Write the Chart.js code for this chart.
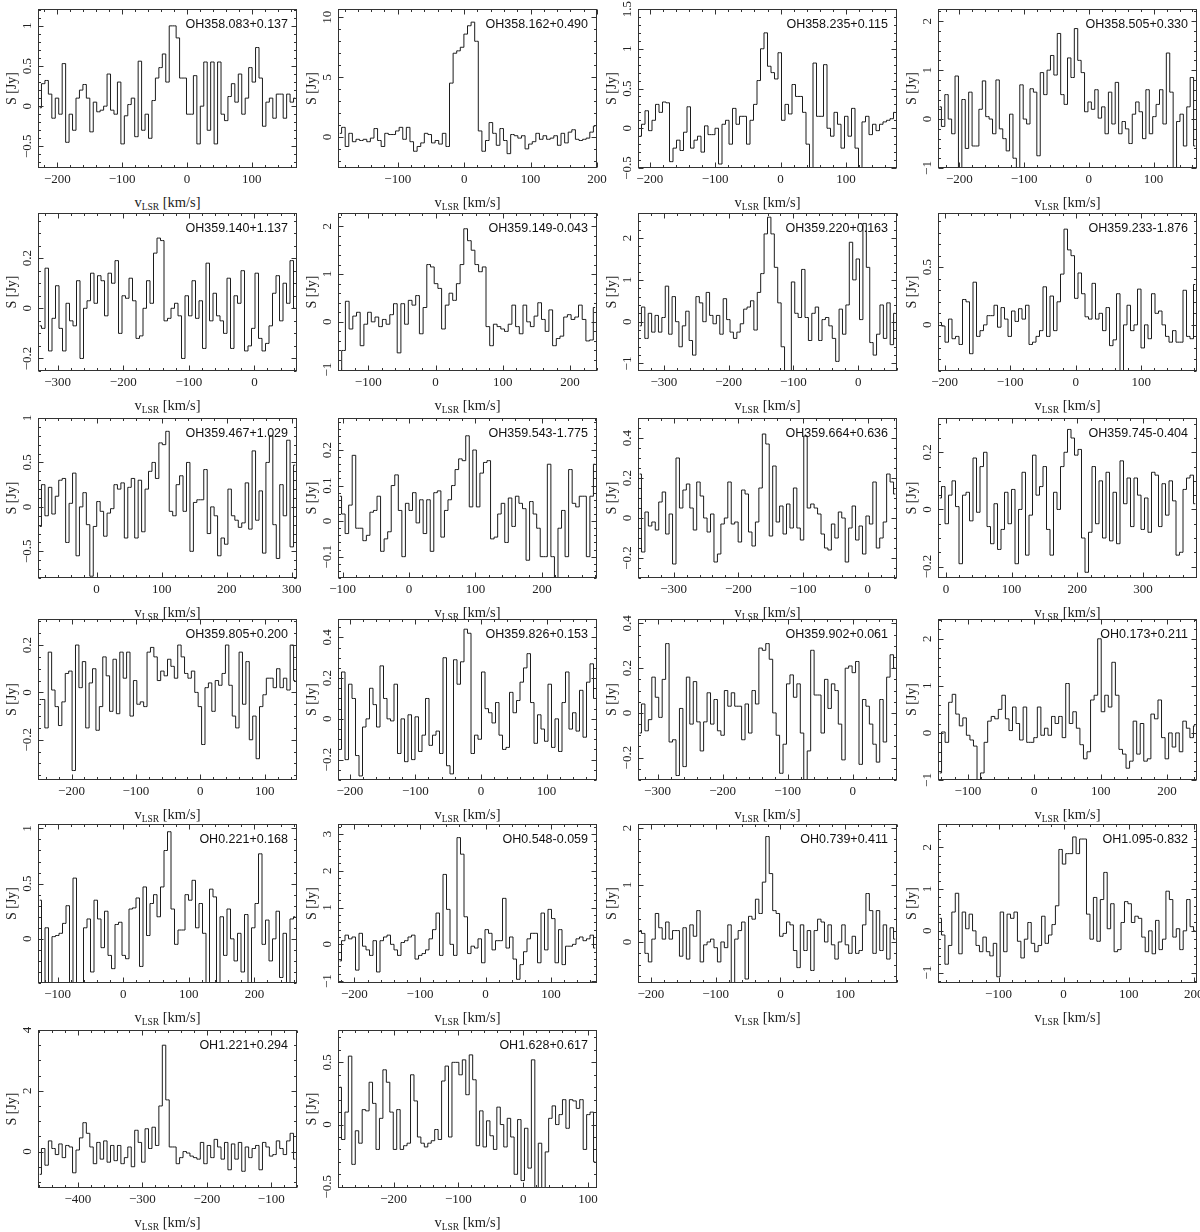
<!DOCTYPE html>
<html>
<head>
<meta charset="utf-8">
<script src="https://cdn.jsdelivr.net/npm/chart.js@4.4.1/dist/chart.umd.min.js"></script>
<style>
body { margin: 0; background: #fff; }
#fig { position: relative; width: 1200px; height: 1232px; overflow: hidden; }
#fig canvas { position: absolute; }
.name { position: absolute; font: 12.5px "Liberation Sans", Arial, sans-serif; color: #111; white-space: nowrap; line-height: 14px; }
.xlab { position: absolute; width: 200px; text-align: center; font: 14.5px "Liberation Serif", "Times New Roman", serif; color: #222; line-height: 18px; }
.xlab sub { font-size: 9.5px; vertical-align: -3px; }
</style>
</head>
<body>
<div id="fig"></div>
<script>
// source names, one per panel
const names = ['OH358.083+0.137', 'OH358.162+0.490', 'OH358.235+0.115', 'OH358.505+0.330',
    'OH359.140+1.137', 'OH359.149-0.043', 'OH359.220+0.163', 'OH359.233-1.876',
    'OH359.467+1.029', 'OH359.543-1.775', 'OH359.664+0.636', 'OH359.745-0.404',
    'OH359.805+0.200', 'OH359.826+0.153', 'OH359.902+0.061', 'OH0.173+0.211',
    'OH0.221+0.168', 'OH0.548-0.059', 'OH0.739+0.411', 'OH1.095-0.832',
    'OH1.221+0.294', 'OH1.628+0.617'];

// velocity window of each spectrum (km/s)
const velRange = [[-230, 170], [-190, 200], [-218, 178], [-233, 167],
    [-330, 65], [-145, 240], [-340, 60], [-210, 185],
    [-90, 308], [-107, 283], [-355, 45], [-12, 382],
    [-252, 150], [-218, 177], [-330, 68], [-145, 245],
    [-130, 265], [-225, 170], [-220, 180], [-193, 205],
    [-462, -60], [-286, 114]];

// flux axis limits (Jy)
const fluxRange = [[-0.77, 1.21], [-2.6, 10.7], [-0.5, 1.5], [-1, 2.25],
    [-0.25, 0.38], [-1.03, 2.28], [-1.18, 2.6], [-0.4, 0.97],
    [-0.8, 1.0], [-0.16, 0.29], [-0.3, 0.5], [-0.24, 0.32],
    [-0.37, 0.31], [-0.3, 0.49], [-0.3, 0.42], [-1, 2.42],
    [-0.4, 1.04], [-1.05, 3.27], [-0.72, 2.07], [-1.25, 2.56],
    [-1.2, 4.0], [-0.51, 0.76]];

// labelled ticks
const velTicks = [[-200, -100, 0, 100], [-100, 0, 100, 200], [-200, -100, 0, 100], [-200, -100, 0, 100],
    [-300, -200, -100, 0], [-100, 0, 100, 200], [-300, -200, -100, 0], [-200, -100, 0, 100],
    [0, 100, 200, 300], [-100, 0, 100, 200], [-300, -200, -100, 0], [0, 100, 200, 300],
    [-200, -100, 0, 100], [-200, -100, 0, 100], [-300, -200, -100, 0], [-100, 0, 100, 200],
    [-100, 0, 100, 200], [-200, -100, 0, 100], [-200, -100, 0, 100], [-100, 0, 100, 200],
    [-400, -300, -200, -100], [-200, -100, 0, 100]];

const fluxTicks = [[-0.5, 0, 0.5, 1], [0, 5, 10], [-0.5, 0, 0.5, 1, 1.5], [-1, 0, 1, 2],
    [-0.2, 0, 0.2], [-1, 0, 1, 2], [-1, 0, 1, 2], [0, 0.5],
    [-0.5, 0, 0.5, 1], [-0.1, 0, 0.1, 0.2], [-0.2, 0, 0.2, 0.4], [-0.2, 0, 0.2],
    [-0.2, 0, 0.2], [-0.2, 0, 0.2, 0.4], [-0.2, 0, 0.2, 0.4], [-1, 0, 1, 2],
    [0, 0.5, 1], [-1, 0, 1, 2, 3], [0, 1, 2], [-1, 0, 1, 2],
    [0, 2, 4], [-0.5, 0, 0.5]];

// flux per channel, channels evenly spread over velRange
const spectra = [
    [-0.02,0.28,0.32,0.15,-0.15,0.1,-0.1,0.53,-0.45,-0.1,
     -0.3,0.1,0.2,0.27,0.1,-0.32,0.05,-0.07,-0.05,0.0,
     0.4,-0.05,-0.1,0.3,-0.47,-0.12,0.02,0.1,-0.38,0.56,
     -0.3,-0.1,-0.4,0.07,0.35,0.48,0.65,0.3,1.0,1.0,
     0.85,0.35,0.35,-0.1,-0.1,0.38,-0.47,0.0,0.55,-0.3,
     0.55,-0.47,0.55,-0.1,-0.18,0.12,0.28,0.05,0.4,-0.1,
     0.1,0.48,0.3,0.73,0.35,-0.25,0.05,0.1,-0.15,0.15,
     0.15,-0.15,0.15,0.05,0.1],
    [0.3,0.8,-0.8,0.3,-0.4,-0.2,-0.3,-0.2,-0.4,-0.1,
     0.7,-0.3,-0.8,0.3,0.2,0.2,0.5,0.8,-0.2,0.8,
     -0.4,-1.2,-0.8,-0.5,0.3,0.2,-0.5,-0.3,-0.6,0.3,
     -0.8,4.5,7.0,7.2,7.5,8.6,9.3,9.6,8.0,0.5,
     -1.2,-0.3,1.2,0.3,-0.7,0.7,-0.3,-1.4,0.2,
     0.1,-0.1,0.1,-1.0,-0.6,-0.4,0.3,-0.2,0.1,-0.2,
     -0.1,0.1,-0.7,0.3,-0.5,0.4,0.6,-0.2,-0.3,-0.2,
     -0.1,0.4,0.9],
    [-0.1,0.05,0.22,-0.03,0.1,0.3,0.2,0.33,0.32,-0.42,
     -0.25,-0.15,-0.28,-0.05,0.27,-0.25,-0.15,-0.1,-0.3,0.03,
     -0.08,-0.08,0.0,-0.45,0.05,0.1,-0.2,0.25,0.05,0.15,
     0.15,-0.2,0.1,0.3,0.6,1.0,1.2,0.78,0.7,0.62,
     0.95,0.1,0.3,0.18,0.55,0.4,0.4,0.2,-0.2,-0.5,
     0.82,0.15,0.15,0.8,0.0,-0.1,0.2,0.05,-0.25,0.15,
     -0.1,0.25,-0.25,-0.55,0.08,0.15,-0.08,0.05,-0.03,0.05,
     0.08,0.1,0.12,0.2],
    [0.25,-0.15,0.5,0.0,-0.3,0.88,-1.2,0.4,-0.6,0.55,
     -0.55,-0.55,0.2,0.78,0.05,0.0,-0.3,0.8,-0.2,-0.4,
     -0.65,0.1,-0.8,-1.1,0.7,0.0,-0.1,0.62,0.55,-0.75,
     0.95,0.5,1.0,1.3,0.9,1.75,0.5,0.3,1.25,0.85,
     1.85,1.2,0.95,0.15,0.35,0.2,0.6,0.02,0.25,-0.3,
     0.55,-0.1,0.75,-0.3,-0.05,-0.2,-0.5,0.1,0.35,0.15,
     -0.4,0.6,-0.3,0.05,0.3,0.6,-0.1,1.35,0.55,-1.3,
     -0.05,0.1,-0.55,0.25,0.85,-0.55],
    [-0.07,-0.08,0.16,-0.17,-0.04,0.09,-0.08,-0.17,0.02,-0.05,
     -0.07,0.11,-0.2,0.0,0.03,0.14,0.02,0.13,0.11,-0.03,
     0.14,0.1,0.19,-0.1,0.05,0.04,0.12,0.03,-0.12,-0.11,
     0.0,0.11,0.02,0.22,0.28,0.27,-0.05,-0.04,0.0,0.02,
     -0.03,-0.2,0.05,-0.03,0.11,-0.04,0.03,-0.16,0.18,-0.05,
     0.06,-0.03,-0.05,-0.1,0.12,-0.16,0.05,0.02,0.15,-0.17,
     -0.15,-0.08,0.14,-0.12,-0.17,-0.14,-0.07,0.06,0.13,-0.05,
     0.1,0.02,0.19,0.0],
    [-1.5,-0.6,0.43,-0.15,0.12,0.2,-0.5,-0.05,0.2,0.0,
     0.1,-0.1,0.05,-0.05,0.15,0.38,-0.65,0.38,-0.05,0.45,
     0.35,0.55,-0.25,0.3,1.2,1.15,0.8,0.7,-0.15,0.35,
     0.6,0.45,0.8,1.2,1.95,1.7,1.5,1.2,1.05,1.15,
     -0.1,-0.5,-0.05,-0.1,-0.15,-0.2,-0.05,0.35,-0.1,-0.25,
     0.35,0.0,-0.1,0.12,0.4,0.05,-0.2,0.25,-0.5,-0.35,
     -0.3,0.1,0.15,0.05,0.1,0.35,0.05,-0.4,-0.38,0.3],
    [-0.1,0.35,-0.4,0.2,-0.25,0.15,-0.25,0.1,0.85,-0.3,
     0.6,0.0,-0.6,-0.1,0.25,-0.45,-0.8,0.6,0.45,0.0,
     0.7,0.15,-0.05,0.15,-0.3,0.55,0.05,-0.25,-0.4,-0.25,
     -0.05,0.3,0.35,0.5,-0.2,0.7,1.15,2.1,2.5,2.1,
     1.3,0.45,-0.6,-1.2,-1.5,0.95,0.2,0.1,1.25,0.1,
     -0.45,0.2,0.35,-0.45,0.05,0.1,-0.1,-0.4,-0.95,0.3,
     -0.3,0.4,1.9,1.0,1.5,0.05,2.35,1.3,-0.5,-0.8,
     -0.3,0.4,-0.4,0.45,-0.55,0.2],
    [0.02,-0.01,-0.15,0.05,-0.12,-0.1,-0.17,0.22,0.2,-0.25,
     0.37,-0.1,-0.05,0.0,0.08,0.08,0.17,-0.02,0.15,0.05,
     -0.1,0.12,0.03,0.14,0.05,0.17,-0.17,-0.15,-0.1,-0.05,
     0.33,-0.1,0.25,-0.05,0.2,0.44,0.83,0.65,0.6,0.23,
     0.45,0.27,0.07,0.05,0.36,0.05,0.1,-0.05,0.15,-0.18,
     -0.13,0.27,-0.42,0.0,0.17,-0.05,0.0,0.31,-0.2,0.0,
     -0.12,0.27,0.1,0.12,0.0,-0.1,-0.15,-0.05,-0.15,-0.15,
     0.3,-0.1,-0.12,0.35],
    [-0.22,0.25,-0.1,0.22,-0.08,0.12,0.3,0.32,-0.4,0.04,
     0.38,-0.55,0.0,0.16,-0.2,-0.78,-0.22,0.06,-0.05,-0.33,
     -0.07,-0.02,0.25,0.2,0.27,-0.35,0.22,0.32,-0.35,0.3,
     -0.28,0.2,0.4,0.5,0.32,0.72,0.7,0.85,-0.05,-0.1,
     0.25,0.35,-0.05,0.5,-0.5,0.05,0.08,0.08,0.42,-0.3,
     0.0,-0.1,-0.55,-0.35,-0.42,0.2,-0.1,-0.15,-0.23,-0.18,
     0.27,-0.25,0.63,-0.15,0.18,-0.52,0.5,0.8,-0.2,-0.58,
     0.25,-0.1,0.75,-0.45,0.47],
    [0.07,0.02,-0.035,0.045,0.185,-0.02,-0.02,-0.055,-0.04,0.025,
     0.03,0.07,-0.085,-0.05,-0.03,0.1,0.13,0.03,-0.1,0.05,
     0.03,0.08,-0.005,0.06,-0.035,0.06,-0.085,0.08,0.085,-0.045,
     0.03,0.06,0.1,0.145,0.175,0.17,0.24,0.04,0.2,0.04,
     0.135,0.165,0.17,-0.05,-0.045,0.02,0.05,-0.06,0.065,-0.015,
     0.07,0.05,0.035,-0.11,0.055,0.02,-0.02,-0.1,-0.1,0.16,
     -0.1,-0.16,-0.02,0.03,-0.1,0.145,0.05,0.04,0.07,0.07,
     -0.1,0.07,0.16],
    [0.22,-0.17,0.03,-0.04,-0.02,-0.06,0.08,0.13,-0.08,0.02,
     -0.23,0.3,0.05,0.14,0.17,0.05,-0.06,0.18,0.11,0.0,
     -0.07,0.02,-0.22,-0.18,-0.03,0.0,0.18,-0.03,-0.02,-0.12,
     0.14,0.12,-0.07,-0.14,-0.02,0.15,0.42,0.37,-0.09,0.26,
     -0.02,0.06,-0.08,0.07,-0.05,0.15,-0.05,-0.11,0.41,0.05,
     0.07,0.05,0.02,-0.08,-0.15,-0.16,-0.03,-0.1,0.03,0.0,
     -0.22,-0.05,0.06,-0.11,-0.04,-0.18,0.01,-0.03,0.18,-0.15,
     -0.1,-0.02,0.22,0.18,0.12],
    [0.04,0.08,-0.05,0.05,0.1,0.01,-0.19,0.05,0.06,-0.04,
     0.18,-0.01,0.15,0.2,-0.06,-0.12,0.02,-0.14,-0.07,0.06,
     -0.05,0.07,-0.19,0.0,0.13,-0.16,-0.02,0.19,0.05,0.08,
     0.15,-0.07,-0.16,0.06,0.0,0.15,0.2,0.28,0.25,0.19,
     0.21,-0.1,-0.22,-0.08,0.15,-0.05,0.1,-0.1,0.13,-0.11,
     0.06,-0.12,0.17,0.02,0.11,-0.06,0.11,0.05,-0.07,0.04,
     -0.08,0.13,0.12,-0.06,0.09,-0.02,0.1,0.03,-0.16,-0.15,
     0.07,0.11,0.12,0.02],
    [-0.03,-0.03,-0.15,0.17,0.01,-0.06,-0.14,-0.04,0.08,0.09,
     -0.33,0.2,0.02,0.13,-0.15,0.04,0.1,-0.16,-0.06,0.15,
     0.07,-0.08,0.14,-0.09,0.17,0.06,0.17,-0.1,0.05,-0.05,
     -0.04,-0.06,0.17,0.19,0.15,0.05,0.09,0.07,0.14,0.11,
     0.06,0.2,0.15,0.08,0.06,0.09,0.0,-0.06,-0.22,0.02,
     0.04,-0.08,0.05,0.03,0.08,0.2,0.03,-0.1,-0.15,0.17,
     -0.05,0.13,-0.2,-0.1,-0.28,-0.06,-0.01,0.06,0.06,0.02,
     0.1,0.02,0.06,0.01,0.2,0.05],
    [-0.15,0.23,-0.2,0.17,0.1,-0.18,-0.28,-0.04,0.0,0.15,
     0.07,-0.04,0.26,0.1,0.0,-0.01,0.17,-0.17,0.0,-0.21,
     0.02,-0.2,0.01,-0.16,-0.08,0.1,-0.13,-0.08,-0.06,-0.17,
     0.3,-0.23,-0.27,0.29,0.17,0.28,0.44,0.42,
     -0.17,-0.08,-0.1,0.23,0.05,0.03,-0.02,0.08,-0.08,-0.15,
     -0.14,0.13,0.03,0.09,0.18,0.25,0.32,0.08,-0.12,0.02,
     -0.05,-0.11,0.17,-0.14,0.0,-0.16,0.08,0.23,-0.05,0.03,
     -0.06,0.14,-0.09,0.18,0.27,0.1],
    [-0.09,0.04,-0.08,-0.03,0.16,0.07,-0.02,0.15,0.31,-0.13,
     -0.12,-0.28,0.02,-0.24,0.16,-0.05,0.14,-0.04,-0.17,-0.04,
     0.09,-0.05,0.06,-0.08,-0.1,0.1,0.03,0.09,0.03,0.03,
     -0.12,0.04,-0.09,0.1,0.04,0.29,0.28,0.31,0.24,0.0,
     -0.1,-0.27,-0.14,0.13,0.17,0.07,0.13,-0.09,-0.32,-0.17,
     0.28,0.08,0.08,-0.09,0.15,0.02,0.13,0.1,-0.05,-0.21,
     0.2,0.21,0.18,0.23,-0.23,0.06,0.03,-0.05,-0.14,-0.22,
     0.06,-0.13,0.16,0.26,0.2],
    [-0.85,0.02,-0.2,0.65,0.82,0.4,0.15,0.32,-0.05,-0.15,
     -0.28,-1.3,-0.85,-0.2,0.25,0.35,0.3,0.5,0.8,0.3,
     0.05,0.55,0.2,-0.15,0.55,-0.2,-0.2,-0.1,0.55,-0.05,
     0.1,-0.05,0.35,0.2,0.35,-0.1,1.05,0.2,0.45,0.1,
     -0.25,-0.55,-0.4,0.7,0.8,2.0,0.45,0.8,0.55,1.5,
     0.8,-0.35,-0.45,-0.75,-0.6,0.25,-0.45,0.2,-0.6,-0.55,
     0.4,0.3,0.7,-0.1,-0.55,0.0,-0.3,0.0,-0.4,0.25,
     0.1,-0.1,0.15],
    [0.35,-0.45,0.1,-0.45,0.02,0.03,0.05,0.14,0.3,-0.45,
     0.55,-0.42,-0.42,0.1,0.18,-0.3,0.35,0.18,-0.08,0.25,
     -0.15,-0.27,0.13,0.15,-0.15,-0.18,0.27,0.28,0.37,-0.25,
     0.47,0.03,0.32,0.4,0.2,0.47,0.8,0.97,
     0.27,-0.05,0.08,0.08,0.4,0.35,0.53,0.1,0.32,0.05,
     -0.5,0.45,0.38,-0.45,0.2,-0.15,0.27,0.0,-0.2,0.05,
     -0.3,0.22,-0.42,0.1,0.32,0.77,-0.05,0.17,-0.2,0.0,
     0.25,-0.35,0.05,-0.4,0.18,0.2],
    [-0.45,0.1,0.25,0.15,0.2,-0.7,0.3,-0.05,-0.15,-0.3,
     0.1,-0.75,0.1,0.2,0.25,0.0,-0.15,-0.3,0.05,0.1,
     0.2,0.25,-0.4,-0.3,-0.25,-0.15,0.15,0.4,0.85,-0.3,
     1.9,0.95,0.0,-0.3,2.9,
     2.45,0.75,-0.25,-0.05,-0.1,0.15,-0.5,0.4,0.3,-0.15,
     0.1,0.1,1.25,-0.1,0.2,-0.4,-0.95,-0.55,-0.2,0.15,
     0.3,0.3,-0.5,0.85,-0.15,0.95,0.7,-0.5,0.4,-0.55,
     -0.05,-0.05,0.0,0.15,0.2,0.1,0.15,0.25,-0.1],
    [0.2,0.15,-0.2,-0.35,0.05,0.5,0.25,0.05,0.35,0.05,
     0.2,0.2,-0.25,0.25,-0.3,0.3,0.1,0.55,-0.35,-0.05,
     0.0,0.05,-0.1,-0.35,0.0,-0.1,0.3,-0.85,0.05,0.2,
     0.35,-0.65,0.45,0.4,0.75,0.5,1.05,1.85,1.2,0.55,
     0.5,0.1,0.15,0.35,0.3,-0.15,-0.45,0.3,-0.15,0.2,
     -0.5,0.2,0.4,0.35,0.0,0.3,-0.05,-0.3,0.0,0.3,
     -0.05,-0.2,0.1,-0.2,-0.15,0.3,0.85,0.55,-0.2,0.55,
     -0.15,0.3,-0.3,0.25,0.05],
    [0.3,-0.1,-0.8,-0.35,0.45,0.9,-0.55,0.45,0.05,0.4,
     0.0,-0.35,-0.5,-0.15,-0.5,-0.6,-0.3,-1.1,0.45,-0.5,
     0.4,0.3,0.45,-0.25,-0.65,-0.2,0.2,-0.3,-0.5,-0.35,
     0.35,-0.3,-0.1,0.15,0.6,1.95,1.6,1.85,1.85,2.25,
     1.85,2.2,2.2,0.4,-0.2,0.8,-0.25,0.75,1.4,0.05,
     0.65,-0.5,-0.45,0.2,0.7,0.65,0.2,0.35,0.3,-0.15,
     -0.5,0.0,-0.55,0.25,-0.45,-0.2,0.95,0.75,-0.15,0.05,
     -0.45,0.0,0.75,0.1,0.0],
    [-0.75,0.1,-0.45,0.35,0.1,-0.1,0.25,-0.2,0.2,0.15,
     -0.7,0.05,0.45,0.95,0.6,0.15,-0.4,0.3,-0.25,0.35,
     -0.35,0.2,-0.3,0.2,-0.4,-0.2,0.15,-0.5,0.7,0.3,
     -0.35,0.75,0.1,0.8,0.2,1.5,3.5,1.7,0.15,0.15,
     -0.4,-0.2,0.0,-0.05,-0.15,-0.2,-0.25,0.3,-0.4,0.2,
     -0.2,0.4,0.15,-0.25,0.3,-0.6,0.25,-0.25,0.3,-0.65,
     0.15,-0.2,0.1,0.2,-0.6,0.3,0.15,-0.15,-0.1,0.35,
     0.1,-0.1,0.35,0.6,-0.25],
    [0.3,-0.12,0.1,0.55,-0.32,-0.05,-0.15,0.12,0.11,0.34,
     0.17,-0.2,0.05,0.44,0.34,0.1,-0.2,0.12,-0.2,-0.17,
     -0.15,0.4,0.19,-0.1,-0.15,-0.18,-0.15,-0.13,-0.04,-0.12,
     0.35,0.47,-0.1,0.5,0.5,0.4,0.52,0.24,0.56,0.36,
     -0.17,0.11,-0.18,0.03,-0.09,-0.2,0.14,0.0,-0.18,0.05,
     -0.1,-0.4,0.04,-0.45,-0.03,-0.35,0.52,-0.65,-0.15,-0.55,
     -0.22,0.05,0.15,0.0,0.08,0.2,-0.03,0.2,0.19,0.13,
     0.2,-0.2,0.08,0.1,-0.3]
];

// page layout: plot boxes of the 4 x 6 grid
const colLeft = [38, 338, 638, 938];
const plotW = 259;
const rowTop = [9, 213, 418, 619, 824, 1030];
const rowBottom = [168, 371, 578, 780, 983, 1188];
const padL = 40, padT = 8, padR = 12, padB = 24;

const fmt = v => String(Math.round(v * 1000) / 1000).replace('-', '\u2212');

function minorStep(ticks) {
    const st = ticks[1] - ticks[0];
    const m = st / Math.pow(10, Math.floor(Math.log10(st) + 1e-9));
    return st / (Math.abs(m - 2) < 1e-6 ? 4 : 5);
}

// PGPLOT style box: frame, inward ticks on all sides, tick labels, y title
const pgBox = {
    id: 'pgBox',
    afterDatasetsDraw(chart, args, opts) {
        const { ctx, chartArea: a, scales: { x, y } } = chart;
        const L = a.left + 0.5, R = a.right - 0.5, T = a.top + 0.5, B = a.bottom - 0.5;
        ctx.save();
        ctx.strokeStyle = '#333';
        ctx.lineWidth = 1;
        ctx.strokeRect(L, T, R - L, B - T);
        ctx.beginPath();
        const xm = minorStep(opts.xTicks);
        for (let k = Math.ceil(x.min / xm - 1e-6); k * xm <= x.max + 1e-6; k++) {
            const v = k * xm;
            const len = opts.xTicks.some(t => Math.abs(t - v) < xm * 0.01) ? 5 : 2.5;
            const px = Math.round(x.getPixelForValue(v)) + 0.5;
            ctx.moveTo(px, T); ctx.lineTo(px, T + len);
            ctx.moveTo(px, B); ctx.lineTo(px, B - len);
        }
        const ym = minorStep(opts.yTicks);
        for (let k = Math.ceil(y.min / ym - 1e-6); k * ym <= y.max + 1e-6; k++) {
            const v = k * ym;
            const len = opts.yTicks.some(t => Math.abs(t - v) < ym * 0.01) ? 5 : 2.5;
            const py = Math.round(y.getPixelForValue(v)) + 0.5;
            ctx.moveTo(L, py); ctx.lineTo(L + len, py);
            ctx.moveTo(R, py); ctx.lineTo(R - len, py);
        }
        ctx.stroke();

        ctx.fillStyle = '#222';
        ctx.font = '13px "Liberation Serif", "Times New Roman", serif';
        ctx.textAlign = 'center';
        ctx.textBaseline = 'middle';
        opts.xTicks.forEach(v => ctx.fillText(fmt(v), x.getPixelForValue(v), a.bottom + 12));
        opts.yTicks.forEach(v => {
            ctx.save();
            ctx.translate(a.left - 10, y.getPixelForValue(v));
            ctx.rotate(-Math.PI / 2);
            ctx.fillText(fmt(v), 0, 0);
            ctx.restore();
        });
        ctx.font = '14px "Liberation Serif", "Times New Roman", serif';
        ctx.translate(a.left - 26, (a.top + a.bottom) / 2);
        ctx.rotate(-Math.PI / 2);
        ctx.fillText('S [Jy]', 0, 0);
        ctx.restore();
    }
};

const fig = document.getElementById('fig');

names.forEach((name, k) => {
    const col = k % 4, row = Math.floor(k / 4);
    const left = colLeft[col], top = rowTop[row], bottom = rowBottom[row];
    const h = bottom - top;

    const canvas = document.createElement('canvas');
    canvas.width = plotW + padL + padR;
    canvas.height = h + padT + padB;
    canvas.style.left = (left - padL) + 'px';
    canvas.style.top = (top - padT) + 'px';
    fig.appendChild(canvas);

    const title = document.createElement('div');
    title.className = 'name';
    title.textContent = name;
    title.style.right = (1200 - (left + plotW - 9)) + 'px';
    title.style.top = (top + 8) + 'px';
    fig.appendChild(title);

    const xlab = document.createElement('div');
    xlab.className = 'xlab';
    xlab.innerHTML = 'v<sub>LSR</sub> [km/s]';
    xlab.style.left = (left + plotW / 2 - 100) + 'px';
    xlab.style.top = (bottom + 25) + 'px';
    fig.appendChild(xlab);

    const [vmin, vmax] = velRange[k];
    const flux = spectra[k];
    const dv = (vmax - vmin) / flux.length;
    const points = flux.map((f, i) => ({ x: vmin + (i + 0.5) * dv, y: f }));

    new Chart(canvas.getContext('2d'), {
        type: 'line',
        data: {
            datasets: [{
                data: points,
                stepped: 'middle',
                borderColor: '#1c1c1c',
                borderWidth: 1,
                pointRadius: 0,
                fill: false
            }]
        },
        options: {
            responsive: false,
            animation: false,
            devicePixelRatio: 1,
            events: [],
            layout: { padding: { left: padL, top: padT, right: padR, bottom: padB } },
            scales: {
                x: { type: 'linear', min: vmin, max: vmax, display: false },
                y: { type: 'linear', min: fluxRange[k][0], max: fluxRange[k][1], display: false }
            },
            plugins: {
                legend: { display: false },
                tooltip: { enabled: false },
                pgBox: { xTicks: velTicks[k], yTicks: fluxTicks[k] }
            }
        },
        plugins: [pgBox]
    });
});
</script>
</body>
</html>
